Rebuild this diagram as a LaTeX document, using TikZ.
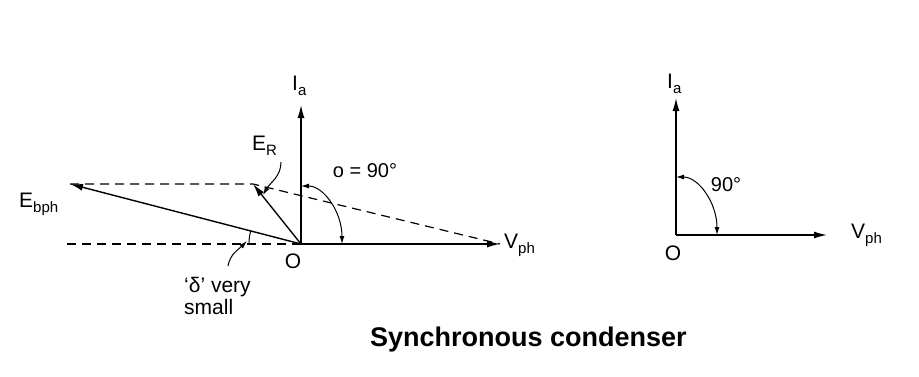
\documentclass[tikz,border=0pt]{standalone}
\usepackage{fontspec}
\setmainfont{Liberation Sans}
\usetikzlibrary{arrows.meta}
\newcommand\lsub[1]{\raisebox{-5pt}{\fontsize{15}{15}\selectfont #1}}
\begin{document}
\begin{tikzpicture}[x=1pt,y=1pt,every node/.style={font=\fontsize{21}{22}\selectfont,inner sep=0pt},
  phasor/.style={-{Latex[length=13pt,width=7pt]},line width=1.4pt},
  guide/.style={dash pattern=on 9pt off 6pt,line width=1.2pt},
  anglemark/.style={{Latex[length=8pt,width=5pt]}-{Latex[length=8pt,width=5pt]},line width=1pt},
  leader/.style={-{Latex[length=8pt,width=5pt]},line width=1pt}]
\useasboundingbox[fill=white] (0,0) rectangle (919,376);
% Leading power factor: E_bph, E_R, V_ph and I_a
\coordinate (O) at (301,132);
\coordinate (Ia) at (301,271);
\coordinate (Vph) at (500,132);
\coordinate (Ebph) at (70,192);
\coordinate (ER) at (253,192);
\coordinate (back) at (67,132);
\draw[guide] (Ebph) -- (ER) -- (Vph);
\draw[guide] (back) -- (O);
\draw[phasor] (O) -- (Ia);
\draw[phasor] (O) -- (Vph);
\draw[phasor] (O) -- (Ebph);
\draw[phasor] (O) -- (ER);
\draw[anglemark] (O) ++(0,58) arc[start angle=90,end angle=0,x radius=41,y radius=58];
\draw[line width=1pt] (O) ++(165.4:52) arc[start angle=165.4,end angle=180,radius=52];
\node[anchor=base west] (lIa) at (292,286) {I\lsub{a}};
\node[anchor=base west] (lVph) at (504,128) {V\lsub{ph}};
\node[anchor=base west] (lEbph) at (19,169) {E\lsub{bph}};
\node[anchor=base west] (lER) at (252,226) {E\lsub{R}};
\node (lO) at (293,115) {O};
\node[font=\fontsize{20}{20}\selectfont] (lphi) at (365,205) {o = 90°};
\node[anchor=north west,align=left] (ldelta) at (184,99) {`δ' very\\small};
\coordinate (dtail) at (228,110);
\coordinate (dhead) at (247,135);
\draw[leader] (dtail) to[out=80,in=225] (dhead);
\coordinate (ertail) at (281,214);
\coordinate (erhead) at (263,181);
\draw[leader] (ertail) to[out=-90,in=60] (erhead);
% Zero power factor: I_a leads V_ph by 90
\coordinate (O2) at (676,141);
\coordinate (Ia2) at (676,278);
\coordinate (Vph2) at (827,141);
\draw[phasor] (O2) -- (Ia2);
\draw[phasor] (O2) -- (Vph2);
\draw[anglemark] (O2) ++(0,58) arc[start angle=90,end angle=0,x radius=41,y radius=58];
\node[anchor=base west] (lIa2) at (667,288) {I\lsub{a}};
\node[anchor=base west] (lVph2) at (851,138) {V\lsub{ph}};
\node (lO2) at (673,123) {O};
\node[font=\fontsize{20}{20}\selectfont] (l90) at (726,191) {90°};
\node[anchor=base west,font=\bfseries\fontsize{27}{27}\selectfont] (title) at (370,30) {Synchronous condenser};
\end{tikzpicture}
\end{document}
